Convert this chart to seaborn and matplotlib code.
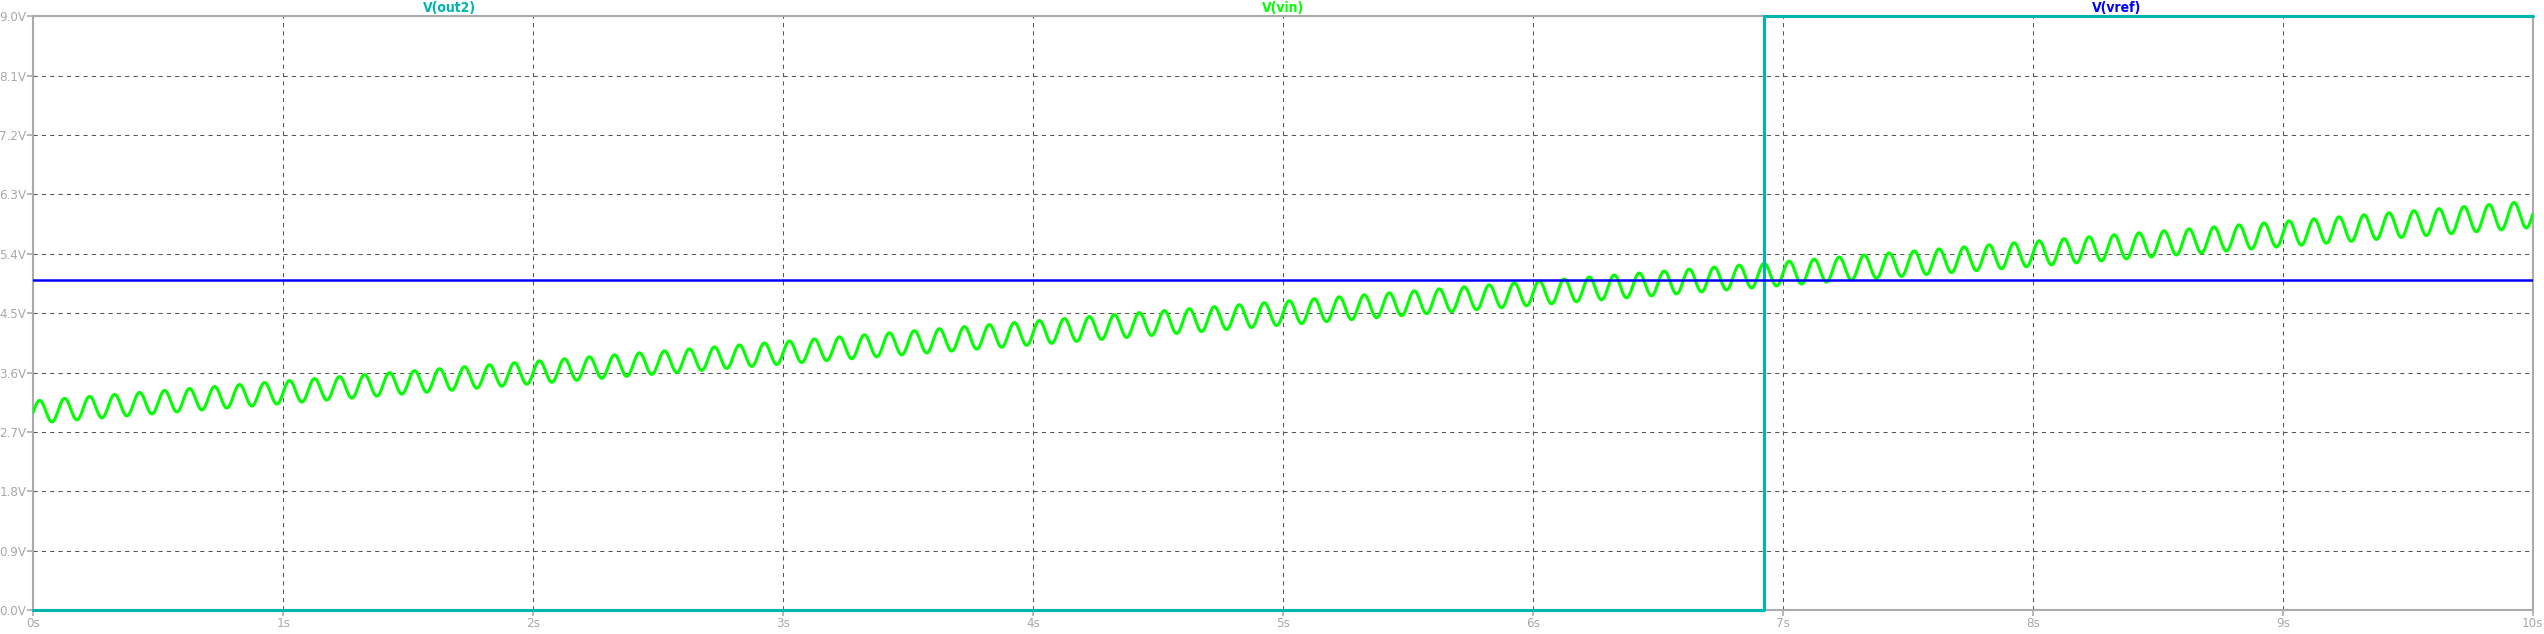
import numpy as np
import pandas as pd
import matplotlib
matplotlib.use("Agg")
import matplotlib.pyplot as plt
import seaborn as sns
from matplotlib import font_manager

# Readings off the LTspice waveform window
sec_marks = [0, 1, 2, 3, 4, 5, 6, 7, 8, 9, 10]
vin_center = [3.0, 3.3, 3.6, 3.9, 4.2, 4.5, 4.8, 5.1, 5.4, 5.7, 6.0]   # mid level of ripple, V
vin_ripple = [0.17, 0.17, 0.17, 0.17, 0.18, 0.18, 0.18, 0.18, 0.19, 0.19, 0.20]  # ripple amplitude, V
ripple_hz = 10.0

vref_t = [0, 10]
vref_v = [5.0, 5.0]

out2_t = [0, 6.923, 6.923, 10]
out2_v = [0.0, 0.0, 9.0, 9.0]

y_ticks = [0.0, 0.9, 1.8, 2.7, 3.6, 4.5, 5.4, 6.3, 7.2, 8.1, 9.0]
y_labels = ["0.0V", "0.9V", "1.8V", "2.7V", "3.6V", "4.5V", "5.4V", "6.3V", "7.2V", "8.1V", "9.0V"]
x_labels = ["0s", "1s", "2s", "3s", "4s", "5s", "6s", "7s", "8s", "9s", "10s"]

# simulated vin trace (sine source riding on the ramp)
t = np.linspace(0, 10, 20001)
vin = np.interp(t, sec_marks, vin_center) + np.interp(t, sec_marks, vin_ripple) * np.sin(2 * np.pi * ripple_hz * t)
df_vin = pd.DataFrame({"t": t, "v": vin})

sns.set_style("white")
fonts = font_manager.fontManager.ttflist
names = {f.name for f in fonts}
if "Liberation Sans Narrow" in names:
    plt.rcParams["font.family"] = ["Liberation Sans Narrow", "DejaVu Sans"]
else:
    plt.rcParams["font.family"] = ["DejaVu Sans"]
    if any(f.name == "DejaVu Sans" and f.stretch == "condensed" for f in fonts):
        plt.rcParams["font.stretch"] = "condensed"

fig = plt.figure(figsize=(25.44, 6.34), dpi=100)
ax = fig.add_axes([0.01309, 0.03785, 0.98247, 0.93644])

c_out2 = "#00B4B4"
c_vin = "#00FF00"
c_vref = "#0000FF"
c_axis = "#ABABAB"

sns.lineplot(x=out2_t, y=out2_v, ax=ax, color=c_out2, linewidth=2.2, estimator=None,
             clip_on=False, zorder=4)
sns.lineplot(data=df_vin, x="t", y="v", ax=ax, color=c_vin, linewidth=2.2, estimator=None, zorder=3)
sns.lineplot(x=vref_t, y=vref_v, ax=ax, color=c_vref, linewidth=1.8, estimator=None, zorder=5)

ax.set_xlim(0, 10)
ax.set_ylim(0, 9)
ax.set_xticks(sec_marks)
ax.set_xticklabels(x_labels)
ax.set_yticks(y_ticks)
ax.set_yticklabels(y_labels)
ax.set_xlabel("")
ax.set_ylabel("")

ax.grid(True, color="#555555", linestyle=(0, (4, 4)), linewidth=0.75)
for s in ax.spines.values():
    s.set_color(c_axis)
    s.set_linewidth(1.5)
ax.tick_params(axis="both", colors=c_axis, labelcolor="#A8A8A8", labelsize=9.5,
               length=4, width=1.2, direction="out", left=True, bottom=True, pad=1.0)

# trace names along the top
for xpix, name, col in [(450, "V(out2)", c_out2), (1283, "V(vin)", c_vin), (2117, "V(vref)", c_vref)]:
    fig.text(xpix / 2544, 1 - 8 / 634, name, color=col, ha="center", va="center",
             fontsize=10, fontweight="bold")

fig.savefig("out.png", dpi=100, facecolor="white")
